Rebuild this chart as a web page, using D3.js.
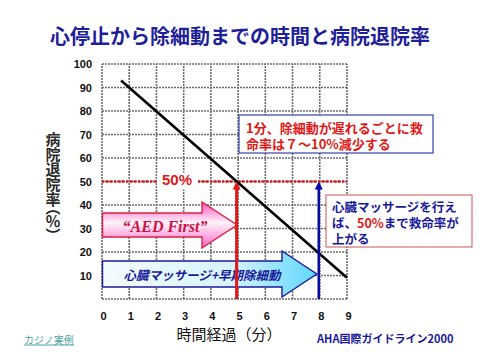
<!DOCTYPE html>
<html><head><meta charset="utf-8">
<script src="https://cdn.jsdelivr.net/npm/d3@7"></script>
<style>body{margin:0;background:#fff}svg{display:block}</style>
</head><body>
<svg id="c" width="480" height="360"></svg>
<script>
// ---- data ----
const title = "心停止から除細動までの時間と病院退院率";
const xTicks = [0,1,2,3,4,5,6,7,8,9];
const yTicks = [10,20,30,40,50,60,70,80,90,100];
const survivalX = [0.7, 9];
const survivalY = [93, 9];
const thresholdValue = 50;
const aedMinute = 5;
const cprMinute = 8;
const yLabel = "病院退院率（％）";
const xLabel = "時間経過（分）";
const note1 = ["1分、除細動が遅れるごとに救","命率は７～10%減少する"];
const aedText = "“AED First”";
const cprText = "心臓マッサージ+早期除細動";
const sourceText = "AHA国際ガイドライン2000";
const linkText = "カジノ実例";

const svg = d3.select("#c");
const x = d3.scaleLinear().domain([0,9]).range([102,347]);
const y = d3.scaleLinear().domain([0,100]).range([299,64]);
const JP = "'Noto Sans CJK JP','Noto Sans',sans-serif";
const AR = "'Liberation Sans',Arial,sans-serif";

const defs = svg.append("defs");
const gp = defs.append("linearGradient").attr("id","gPink").attr("x1",0).attr("y1",0).attr("x2",0).attr("y2",1);
gp.append("stop").attr("offset","0%").attr("stop-color","#ff4fc0");
gp.append("stop").attr("offset","45%").attr("stop-color","#fff4fa");
gp.append("stop").attr("offset","100%").attr("stop-color","#ff66cc");
const gb = defs.append("linearGradient").attr("id","gBlue").attr("x1",0).attr("y1",0).attr("x2",1).attr("y2",0);
gb.append("stop").attr("offset","0%").attr("stop-color","#f4fcff");
gb.append("stop").attr("offset","60%").attr("stop-color","#d6f4ff");
gb.append("stop").attr("offset","100%").attr("stop-color","#5fd6ff");

// title
svg.append("text").attr("x",240).attr("y",35).attr("text-anchor","middle").attr("dominant-baseline","central")
  .attr("font-family",JP).attr("font-weight","bold").attr("font-size",20).attr("fill","#1f1f99").text(title);

// grid
const grid = svg.append("g").attr("stroke","#6d6d6d").attr("stroke-width",1.6).attr("stroke-dasharray","2,1");
grid.selectAll("line.v").data(xTicks).join("line").attr("class","v")
  .attr("x1",d=>x(d)).attr("x2",d=>x(d)).attr("y1",y(0)).attr("y2",y(100));
grid.selectAll("line.h").data([0].concat(yTicks)).join("line").attr("class","h")
  .attr("x1",x(0)).attr("x2",x(9)).attr("y1",d=>y(d)).attr("y2",d=>y(d));

// axes labels
const ax = svg.append("g").attr("transform",`translate(0,${y(0)+10})`)
  .call(d3.axisBottom(x).tickValues(xTicks).tickSize(0).tickFormat(d3.format("d")));
ax.select(".domain").remove();
ax.selectAll("text").attr("font-family",AR).attr("font-weight","bold").attr("font-size",11).attr("fill","#111").attr("dx",1);
const ay = svg.append("g").attr("transform",`translate(${x(0)-7},0)`)
  .call(d3.axisLeft(y).tickValues(yTicks).tickSize(0));
ay.select(".domain").remove();
ay.selectAll("text").attr("font-family",AR).attr("font-weight","bold").attr("font-size",11).attr("fill","#111").attr("dy","0.35em");

// y label vertical
svg.append("text").attr("x",53).attr("y",132)
  .style("writing-mode","vertical-rl").style("font-feature-settings","'vpal'")
  .attr("font-family",JP).attr("font-size",15).attr("font-weight","bold")
  .attr("fill","#2a2a2a").text(yLabel);

// x label
svg.append("text").attr("x",229).attr("y",333).attr("text-anchor","middle").attr("dominant-baseline","central")
  .attr("font-family",JP).attr("font-size",15).attr("fill","#111").text(xLabel);

// threshold dotted line
svg.append("line").attr("x1",x(0)).attr("x2",x(9)).attr("y1",y(thresholdValue)).attr("y2",y(thresholdValue))
  .attr("stroke","#e01818").attr("stroke-width",2.5).attr("stroke-dasharray","2.5,1.5");
svg.append("rect").attr("x",157).attr("y",y(thresholdValue)-9).attr("width",41).attr("height",17).attr("fill","#fff");
svg.append("text").attr("x",177).attr("y",y(thresholdValue)-2).attr("text-anchor","middle").attr("dominant-baseline","central")
  .attr("font-family",AR).attr("font-weight","bold").attr("font-size",15).attr("fill","#e01818").text(thresholdValue+"%");

// survival line
svg.append("path").datum(survivalX.map((d,i)=>[d,survivalY[i]]))
  .attr("d",d3.line().x(d=>x(d[0])).y(d=>y(d[1]))).attr("stroke","#000").attr("stroke-width",2.6).attr("fill","none");

// arrows (shape) helper
function bigArrow(x0,x1,cy,bodyH,headH,headStart,fill,stroke){
  const p = d3.path();
  p.moveTo(x0,cy-bodyH/2); p.lineTo(headStart,cy-bodyH/2); p.lineTo(headStart,cy-headH/2);
  p.lineTo(x1,cy); p.lineTo(headStart,cy+headH/2); p.lineTo(headStart,cy+bodyH/2);
  p.lineTo(x0,cy+bodyH/2); p.closePath();
  svg.append("path").attr("d",p.toString()).attr("fill",fill).attr("stroke",stroke).attr("stroke-width",1.4);
}
// AED arrow
bigArrow(x(0)+0.5, x(aedMinute)-1, 225, 24, 46, 202, "url(#gPink)", "#dd2244");
svg.append("text").attr("x",165).attr("y",226).attr("text-anchor","middle").attr("dominant-baseline","central")
  .attr("font-family","'Liberation Serif','Times New Roman',serif").attr("font-style","italic").attr("font-weight","bold")
  .attr("font-size",16).attr("fill","#cc1144").text(aedText);
// CPR arrow
bigArrow(x(0)+0.5, x(cprMinute)-3, 274, 26, 46, 282, "url(#gBlue)", "#1a1aa0");
svg.append("text").attr("x",202).attr("y",274).attr("text-anchor","middle").attr("dominant-baseline","central")
  .attr("font-family",JP).attr("font-style","italic").attr("font-weight","bold")
  .attr("font-size",12.5).attr("fill","#1a1a99").text(cprText);

// vertical lines with small arrowheads
function vArrow(xv, color, w){
  const xt = xv, yt = y(thresholdValue);
  svg.append("line").attr("x1",xt).attr("x2",xt).attr("y1",y(0)).attr("y2",yt+6)
    .attr("stroke",color).attr("stroke-width",w);
  svg.append("path").attr("d",`M${xt},${yt} L${xt-4},${yt+8} L${xt+4},${yt+8} Z`).attr("fill",color);
}
vArrow(x(aedMinute)-1.5, "#e01818", 3);
vArrow(x(cprMinute)-1, "#0a0aa8", 2.6);

// note box 1
svg.append("rect").attr("x",239).attr("y",115).attr("width",194).attr("height",38).attr("fill","#fff")
  .attr("stroke","#3344aa").attr("stroke-width",1.2);
svg.append("g").selectAll("text").data(note1).join("text")
  .attr("x",246).attr("y",(d,i)=>127+i*16).attr("dominant-baseline","central")
  .attr("font-family",JP).attr("font-weight","bold").attr("font-size",13).attr("fill","#e01818").text(d=>d);

// note box 2
svg.append("rect").attr("x",326).attr("y",195).attr("width",146).attr("height",52).attr("fill","#fff")
  .attr("stroke","#cc5555").attr("stroke-width",1);
const n2 = svg.append("g").attr("font-family",JP).attr("font-weight","bold").attr("font-size",12.5).attr("fill","#1a1a99");
n2.append("text").attr("x",332).attr("y",206).attr("dominant-baseline","central").text("心臓マッサージを行え");
const t2 = n2.append("text").attr("x",332).attr("y",222).attr("dominant-baseline","central");
t2.append("tspan").text("ば、");
t2.append("tspan").attr("fill","#e01818").text(thresholdValue+"%");
t2.append("tspan").text("まで救命率が");
n2.append("text").attr("x",332).attr("y",238).attr("dominant-baseline","central").text("上がる");

// footers
svg.append("text").attr("x",24).attr("y",339).attr("dominant-baseline","central").attr("font-family",JP)
  .attr("font-size",10).attr("fill","#4aa3a3").attr("text-decoration","underline").text(linkText);
svg.append("text").attr("x",317).attr("y",338).attr("dominant-baseline","central").attr("font-family",JP)
  .attr("font-weight","bold").attr("font-size",11).attr("fill","#1a1a99").text(sourceText);
</script>
</body></html>
